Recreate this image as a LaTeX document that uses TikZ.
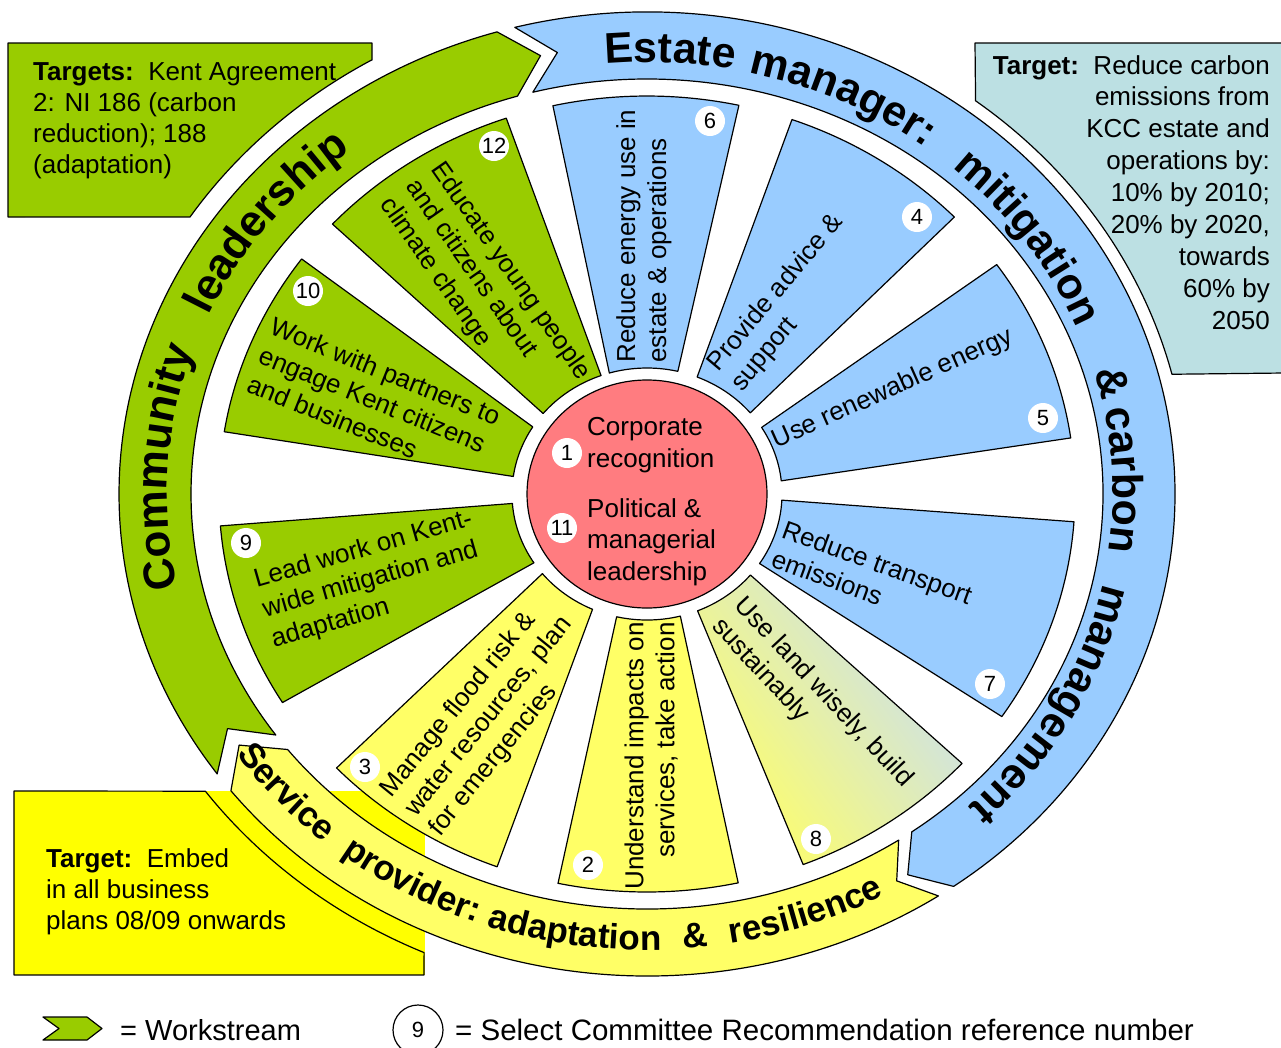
\documentclass[tikz,border=0pt]{standalone}
\usepackage{fontspec}
\setmainfont{Liberation Sans}
\usetikzlibrary{calc}

\definecolor{cgreen}{HTML}{99CC00}
\definecolor{cblue}{HTML}{99CCFF}
\definecolor{cyel}{HTML}{FFFF66}
\definecolor{cbyel}{HTML}{FFFF00}
\definecolor{cpink}{HTML}{FF7C80}
\definecolor{cteal}{HTML}{BCE0E3}
\definecolor{cland}{HTML}{C8DEF5}

\newcommand\wfont{\fontsize{26}{31}\selectfont}
\newcommand\cfont{\fontsize{26}{31.5}\selectfont}
\newcommand\rbfont{\fontsize{43}{43}\selectfont\bfseries}
\newcommand\rgfont{\fontsize{44}{44}\selectfont\bfseries}
\newcommand\ryfont{\fontsize{35}{35}\selectfont\bfseries}

% wedge: outer hi, outer lo, inner lo, inner hi
\newcommand\wedgepath[4]{($(C)+(#1:428 and 398)$) arc[start angle=#1, end angle=#2, x radius=428, y radius=398] -- ($(C)+(#3:135 and 126)$) arc[start angle=#3, end angle=#4, x radius=135, y radius=126] -- cycle}
% chevron band: tail, notch, head, tip
\newcommand\chevpath[4]{($(C)+(#1:528 and 482)$) arc[start angle=#1, end angle=#3, x radius=528, y radius=482] -- ($(C)+(#4:492 and 449)$) -- ($(C)+(#3:456 and 415)$) arc[start angle=#3, end angle=#1, x radius=456, y radius=415] -- ($(C)+(#2:492 and 449)$) -- cycle}

\newcount\rlc
% letters on an ellipse: rx, ry, centre angle, direction (+1/-1), font, font size, word width (1/1000 em), list letter/start/width
\newcommand\ringtext[8]{%
  \pgfmathsetmacro\rreff{100*sqrt((#1/100*sin(#3))^2+(#2/100*cos(#3))^2)}%
  \foreach \ch/\st/\cw in {#8}{%
    \pgfmathsetmacro\rsv{(\st+0.5*\cw-0.5*#7)/1000*#6}%
    \pgfmathsetmacro\rtv{#3+(#4)*\rsv/\rreff*57.29578}%
    \pgfmathsetmacro\rrot{atan2((#4)*#2*cos(\rtv),-(#4)*#1*sin(\rtv))}%
    \global\advance\rlc by 1\relax
    \node[ringl, font=#5, rotate=\rrot] (rl\the\rlc) at ($(C)+(\rtv:#1 and #2)$) {\ch};%
  }%
}

\begin{document}
\begin{tikzpicture}[x=1pt,y=1pt,
  outl/.style={draw=black, line width=1.2pt, line join=round},
  wtext/.style={font=\wfont, inner sep=0pt, align=left},
  numc/.style={circle, fill=white, inner sep=0pt, minimum size=30pt, font=\fontsize{22}{22}\selectfont},
  ringl/.style={anchor=base, inner sep=0pt}
]
\useasboundingbox (0,0) rectangle (1281,-1047);
\fill[white] (0,0) rectangle (1281,-1047);
\coordinate (C) at (647,-494);

% ---- target boxes ----
\draw[outl, fill=cgreen] (8,-43) -- (372,-43) -- (372,-60) -- ($(C)+(120.1:548 and 502)$) arc[start angle=120.1, end angle=146.5, x radius=548, y radius=502] -- (8,-217) -- cycle;
\draw[outl, fill=cteal] (975,-43) -- (1284,-43) -- (1284,-373) -- ($(C)+(14:541 and 495)$) arc[start angle=14, end angle=52.6, x radius=541, y radius=495] -- cycle;
\fill[cbyel] (14,-791) rectangle (425,-975);
\draw[outl] (14,-791) -- ($(C)+(216.3:548 and 502)$) arc[start angle=216.3, end angle=246, x radius=548, y radius=502] -- (424,-975) -- (14,-975) -- cycle;

% ---- outer ring ----
\draw[outl, fill=cgreen] \chevpath{215.5}{211.5}{106.5}{102.5};
\draw[outl, fill=cblue] \chevpath{104.5}{100.5}{-54.5}{-58};
\draw[outl, fill=cyel] \chevpath{303.5}{300.5}{218}{214};

% ---- wedges ----
\draw[outl, fill=cblue] \wedgepath{102.7}{77.6}{76.8}{106.2};
\draw[outl, fill=cblue] \wedgepath{70.2}{44.1}{40.1}{68.2};
\draw[outl, fill=cblue] \wedgepath{35.2}{8.1}{6}{31.9};
\draw[outl, fill=cblue] \wedgepath{-4}{-34}{-33.5}{-2.8};
\shade[bottom color=cyel, top color=cland, shading angle=-54] \wedgepath{-42.6}{-68.6}{-68}{-40};
\draw[outl] \wedgepath{-42.6}{-68.6}{-68}{-40};
\draw[outl, fill=cyel] \wedgepath{-77.7}{-102}{-103}{-75.7};
\draw[outl, fill=cyel] \wedgepath{-110.5}{-136.5}{-140.8}{-113.8};
\draw[outl, fill=cgreen] \wedgepath{-148.4}{-175.4}{-175.7}{-146.9};
\draw[outl, fill=cgreen] \wedgepath{171}{143.8}{147.8}{172};
\draw[outl, fill=cgreen] \wedgepath{137.3}{109.2}{109.9}{140.3};

% ---- centre ----
\draw[outl, fill=cpink] (C) ellipse [x radius=120, y radius=114];

% ---- wedge texts ----
\node[wtext, rotate=90] (t6) at (644,-236) {Reduce energy use in\\estate \& operations};
\node[wtext, rotate=50] (t4) at (788,-303) {Provide advice \&\\support};
\node[wtext, rotate=24] (t5) at (893,-389) {Use renewable energy};
\node[wtext, rotate=-20] (t7) at (872,-577) {Reduce transport\\emissions};
\node[wtext, rotate=-47] (t8) at (812,-703) {Use land wisely, build\\sustainably};
\node[wtext, rotate=90, align=right] (t2) at (651,-756) {Understand impacts on\\services, take action};
\node[wtext, rotate=51] (t3) at (489,-717) {Manage flood risk \&\\water resources, plan\\for emergencies};
\node[wtext, rotate=16] (t9) at (372,-580) {Lead work on Kent-\\wide mitigation and\\adaptation};
\node[wtext, rotate=-22] (t10) at (374,-400) {Work with partners to\\engage Kent citizens\\and businesses};
\node[wtext, rotate=-55] (t12) at (485,-289) {Educate young people\\and citizens about\\climate change};
\node[wtext, font=\cfont, anchor=west] (c1) at (587,-445) {Corporate\\recognition};
\node[wtext, font=\cfont, anchor=west] (c11) at (587,-542) {Political \&\\managerial\\leadership};

% ---- number circles ----
\node[numc] (n6) at (710,-121) {6};
\node[numc] (n4) at (917,-217) {4};
\node[numc] (n5) at (1043,-418) {5};
\node[numc] (n7) at (990,-684) {7};
\node[numc] (n8) at (816,-839) {8};
\node[numc] (n2) at (588,-865) {2};
\node[numc] (n3) at (365,-767) {3};
\node[numc] (n9) at (246,-543) {9};
\node[numc] (n10) at (308,-291) {10};
\node[numc] (n12) at (494,-146) {12};
\node[numc] (n1) at (567,-453) {1};
\node[numc] (n11) at (562,-528) {11};

% ---- ring words ----
\ringtext{466}{432}{87.2}{-1}{\rbfont}{43}{3001}{E/0/667,s/667/556,t/1223/333,a/1556/556,t/2112/333,e/2445/556}
\ringtext{466}{432}{65.4}{-1}{\rbfont}{43}{4501}{m/0/889,a/889/556,n/1445/611,a/2056/556,g/2612/611,e/3223/556,r/3779/389,:/4168/333}
\ringtext{466}{432}{35.9}{-1}{\rbfont}{43}{4778}{m/0/889,i/889/278,t/1167/333,i/1500/278,g/1778/611,a/2389/556,t/2945/333,i/3278/278,o/3556/611,n/4167/611}
\ringtext{466}{432}{14.4}{-1}{\rbfont}{43}{722}{\&/0/722}
\ringtext{466}{432}{1.8}{-1}{\rbfont}{43}{3334}{c/0/556,a/556/556,r/1112/389,b/1501/611,o/2112/611,n/2723/611}
\ringtext{466}{432}{-29.2}{-1}{\rbfont}{43}{6168}{m/0/889,a/889/556,n/1445/611,a/2056/556,g/2612/611,e/3223/556,m/3779/889,e/4668/556,n/5224/611,t/5835/333}
\ringtext{480}{437}{176.5}{-1}{\rgfont}{44}{5500}{C/0/722,o/722/611,m/1333/889,m/2222/889,u/3111/611,n/3722/611,i/4333/278,t/4611/333,y/4944/556}
\ringtext{480}{437}{142}{-1}{\rgfont}{44}{5002}{l/0/278,e/278/556,a/834/556,d/1390/611,e/2001/556,r/2557/389,s/2946/556,h/3502/611,i/4113/278,p/4391/611}
\ringtext{500}{456}{222.3}{1}{\ryfont}{35}{3558}{S/0/667,e/667/556,r/1223/389,v/1612/556,i/2168/278,c/2446/556,e/3002/556}
\ringtext{500}{456}{241.2}{1}{\ryfont}{35}{4334}{p/0/611,r/611/389,o/1000/611,v/1611/556,i/2167/278,d/2445/611,e/3056/556,r/3612/389,:/4001/333}
\ringtext{500}{456}{261.5}{1}{\ryfont}{35}{5056}{a/0/556,d/556/611,a/1167/556,p/1723/611,t/2334/333,a/2667/556,t/3223/333,i/3556/278,o/3834/611,n/4445/611}
\ringtext{500}{456}{275.6}{1}{\ryfont}{35}{722}{\&/0/722}
\ringtext{500}{456}{289}{1}{\ryfont}{35}{4614}{r/0/389,e/389/556,s/945/556,i/1501/278,l/1779/278,i/2057/278,e/2335/556,n/2891/611,c/3502/556,e/4058/556}

% ---- box texts ----
\node[wtext, anchor=north west] (tg) at (33,-62) {\textbf{Targets:}\ \ Kent Agreement\\2: NI 186 (carbon\\reduction); 188\\(adaptation)};
\node[wtext, anchor=north east, align=right, font=\fontsize{26}{31.9}\selectfont] (tt) at (1270,-55) {\textbf{Target:}\ \ Reduce carbon\\emissions from\\KCC estate and\\operations by:\\10\% by 2010;\\20\% by 2020,\\towards\\60\% by\\2050};
\node[wtext, anchor=north west] (ty) at (46,-848) {\textbf{Target:}\ \ Embed\\in all business\\plans 08/09 onwards};

% ---- legend ----
\draw[outl, fill=cgreen] (43,-1017) -- (87,-1017) -- (102,-1028.5) -- (87,-1040) -- (43,-1040) -- (59,-1028.5) -- cycle;
\node[anchor=base west, inner sep=0pt, font=\fontsize{29}{29}\selectfont] (lgw) at (120,-1040) {= Workstream};
\node[draw, line width=1.2pt, circle, minimum size=50pt, inner sep=0pt, font=\fontsize{22}{22}\selectfont] (lg9) at (418,-1030) {9};
\node[anchor=base west, inner sep=0pt, font=\fontsize{29.5}{29.5}\selectfont] (lgs) at (455,-1040) {= Select Committee Recommendation reference number};
\end{tikzpicture}
\end{document}
